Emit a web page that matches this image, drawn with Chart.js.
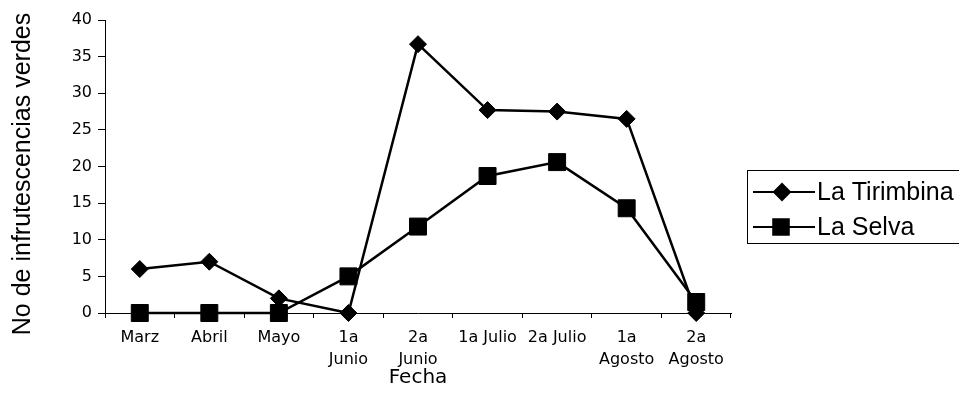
<!DOCTYPE html>
<html>
<head>
<meta charset="utf-8">
<script src="https://cdn.jsdelivr.net/npm/chart.js@4/dist/chart.umd.min.js"></script>
<style>
  html, body { margin: 0; padding: 0; background: #fff; }
  #wrap { width: 959px; height: 415px; position: relative; }
</style>
</head>
<body>
<div id="wrap"><canvas id="c" width="959" height="415"></canvas></div>
<script>
// Sampling dates
const fechas = [
  'Marz', 'Abril', 'Mayo', ['1a', 'Junio'], ['2a', 'Junio'],
  '1a Julio', '2a Julio', ['1a', 'Agosto'], ['2a', 'Agosto']
];
// Green infructescences counted at each site
const laTirimbina = [6, 7, 2, 0, 36.7, 27.7, 27.5, 26.5, 0];
const laSelva     = [0, 0, 0, 5, 11.8, 18.7, 20.6, 14.3, 1.5];
const yTicks = [0, 5, 10, 15, 20, 25, 30, 35, 40];
const yTitle = 'No de infrutescencias verdes';

const FONT = "'Liberation Sans', Arial, sans-serif";
const TICK_FONT = "'DejaVu Sans', sans-serif";

// Vertical axis title, centred a little below the plot middle
const sideTitle = {
  id: 'sideTitle',
  afterDraw(chart) {
    const ctx = chart.ctx;
    ctx.save();
    ctx.translate(23, 174);
    ctx.rotate(-Math.PI / 2);
    ctx.font = '25px ' + FONT;
    ctx.fillStyle = '#000';
    ctx.textAlign = 'center';
    ctx.textBaseline = 'middle';
    ctx.fillText(yTitle, 0, 0);
    ctx.restore();
  }
};

// Boxed legend at the right: a short line with the series marker, then its name
const boxLegend = {
  id: 'boxLegend',
  afterDraw(chart) {
    const ctx = chart.ctx;
    const x0 = 747, y0 = 170, w = 220, h = 73;
    ctx.save();
    ctx.strokeStyle = '#000';
    ctx.lineWidth = 1;
    ctx.strokeRect(x0 + 0.5, y0 + 0.5, w, h);
    const rows = [192, 227];
    chart.data.datasets.forEach((ds, i) => {
      const y = rows[i];
      ctx.strokeStyle = '#000';
      ctx.lineWidth = 2;
      ctx.beginPath();
      ctx.moveTo(753, y);
      ctx.lineTo(815, y);
      ctx.stroke();
      ctx.fillStyle = '#000';
      const cx = i === 0 ? 782 : 781;
      Chart.helpers.drawPoint(ctx, {
        pointStyle: ds.pointStyle,
        radius: i === 0 ? 8 : 11,
        borderWidth: 1
      }, cx, y);
      ctx.fill();
      ctx.font = '25px ' + FONT;
      ctx.textBaseline = 'middle';
      ctx.textAlign = 'left';
      ctx.fillText(ds.label, 817, y + 1);
    });
    ctx.restore();
  }
};

new Chart(document.getElementById('c'), {
  type: 'line',
  data: {
    labels: fechas,
    datasets: [
      {
        label: 'La Tirimbina',
        data: laTirimbina,
        borderColor: '#000',
        backgroundColor: '#000',
        borderWidth: 2.5,
        pointStyle: 'rectRot',
        pointRadius: 8.5,
        pointBackgroundColor: '#000',
        pointBorderColor: '#000',
        pointBorderWidth: 1,
        tension: 0,
        clip: false
      },
      {
        label: 'La Selva',
        data: laSelva,
        borderColor: '#000',
        backgroundColor: '#000',
        borderWidth: 2.5,
        pointStyle: 'rect',
        pointRadius: 12,
        pointBackgroundColor: '#000',
        pointBorderColor: '#000',
        pointBorderWidth: 1,
        tension: 0,
        clip: false
      }
    ]
  },
  options: {
    responsive: false,
    animation: false,
    layout: { padding: { left: 0, top: 20, right: 228, bottom: 0 } },
    plugins: {
      legend: { display: false },
      tooltip: { enabled: false }
    },
    scales: {
      x: {
        offset: true,
        grid: {
          offset: true,
          drawOnChartArea: false,
          drawTicks: true,
          tickLength: 5,
          color: '#000'
        },
        border: { color: '#000', width: 1 },
        ticks: {
          color: '#000',
          font: { family: TICK_FONT, size: 16, lineHeight: 1.375 },
          padding: 9,
          maxRotation: 0,
          autoSkip: false
        },
        title: {
          display: true,
          text: 'Fecha',
          color: '#000',
          font: { family: TICK_FONT, size: 20 },
          padding: { top: 0, bottom: 25 }
        },
        afterFit(scale) { scale.height = 102; }
      },
      y: {
        min: 0,
        max: 40,
        afterBuildTicks(scale) { scale.ticks = yTicks.map(v => ({ value: v })); },
        grid: {
          drawOnChartArea: false,
          drawTicks: true,
          tickLength: 7,
          color: '#000'
        },
        border: { color: '#000', width: 1 },
        ticks: {
          color: '#000',
          font: { family: TICK_FONT, size: 16 },
          padding: 6
        },
        title: { display: false },
        afterFit(scale) { scale.width = 105; }
      }
    }
  },
  plugins: [boxLegend, sideTitle]
});
</script>
</body>
</html>
